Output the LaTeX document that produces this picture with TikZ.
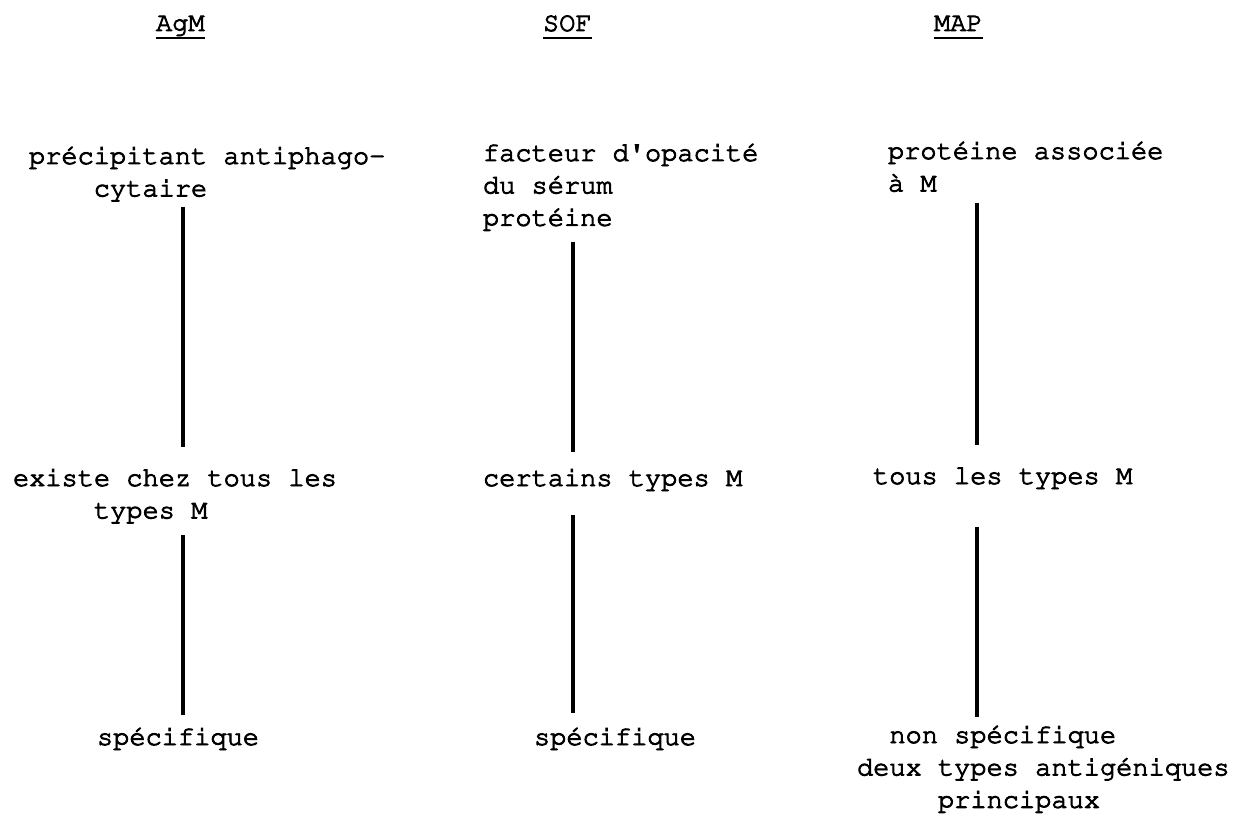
\documentclass[tikz,border=0pt]{standalone}
\usepackage[T1]{fontenc}
% typewriter text: Courier, 12-pitch spacing, inked a little heavier
\newcommand\inked{\special{pdf:literal direct 2 Tr 0.9 w}}
\newcommand\tw{\fontfamily{pcr}\fontseries{m}\fontshape{n}\fontsize{27}{32.4}\selectfont\inked}
\newlength\chw
\setlength\chw{16.2pt}
\newcommand\ind[1]{\hspace*{#1\chw}}
\begin{document}
\begin{tikzpicture}[x=1pt,y=1pt,
  lbl/.style={inner sep=0pt, outer sep=0pt, anchor=base west, font=\tw},
  vline/.style={line width=3.4pt, black},
  uline/.style={line width=2.4pt, black}]
\useasboundingbox (0,0) rectangle (1238,828);

% column headers
\node[lbl] (hA) at (156,797) {AgM};
\node[lbl] (hB) at (543,797) {SOF};
\node[lbl] (hC) at (934,797) {MAP};
\foreach \h in {hA,hB,hC}
  \draw[uline] ([yshift=-7pt]\h.base west) -- ([yshift=-7pt]\h.base east);

% AgM column
\node[lbl] (A1) at (29,664) {\vtop{\hbox{précipitant antiphago-}\hbox{\ind4cytaire}}};
\node[lbl] (A2) at (13,342) {\vtop{\hbox{existe chez tous les}\hbox{\ind5types M}}};
\node[lbl] (A3) at (97,83) {spécifique};

% SOF column
\node[lbl] (B1) at (483,667) {\vtop{\hbox{facteur d\textquotesingle opacité}\hbox{du sérum}\hbox{protéine}}};
\node[lbl] (B2) at (483,342) {certains types M};
\node[lbl] (B3) at (534,83) {spécifique};

% MAP column
\node[lbl] (C1) at (888,669) {\vtop{\hbox{protéine associée}\hbox{à M}}};
\node[lbl] (C2) at (873,344) {tous les types M};
\node[lbl] (C3) at (857,85) {\vtop{\hbox{\ind2non spécifique}\hbox{deux types antigéniques}\hbox{\ind5principaux}}};

% vertical links
\coordinate (xA) at (183,0);
\coordinate (xB) at (573,0);
\coordinate (xC) at (977,0);
\draw[vline] ([yshift=-43pt]A1.base -| xA) -- ([yshift=39pt]A2.base -| xA);
\draw[vline] ([yshift=-49pt]A2.base -| xA) -- ([yshift=30pt]A3.base -| xA);
\draw[vline] ([yshift=-81pt]B1.base -| xB) -- ([yshift=34pt]B2.base -| xB);
\draw[vline] ([yshift=-29pt]B2.base -| xB) -- ([yshift=32pt]B3.base -| xB);
\draw[vline] ([yshift=-44pt]C1.base -| xC) -- ([yshift=39pt]C2.base -| xC);
\draw[vline] ([yshift=-43pt]C2.base -| xC) -- ([yshift=26pt]C3.base -| xC);
\end{tikzpicture}
\end{document}
